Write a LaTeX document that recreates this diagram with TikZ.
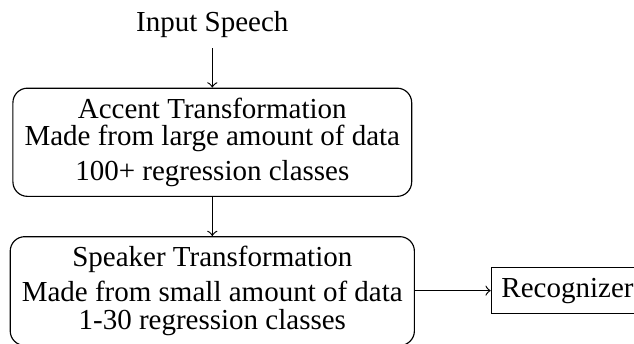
\documentclass[tikz,border=0pt]{standalone}
\usepackage{fontspec}
\setmainfont{Liberation Serif}
\usetikzlibrary{positioning}
\tikzset{%
    stagebox/.style={%
        draw, rounded corners=5pt, align=center,
        inner xsep=4pt, inner ysep=3.3pt}, 
    recbox/.style={draw, inner sep=3.5pt}
}

\begin{document}
\begin{tikzpicture}
\useasboundingbox (0,0) rectangle (218.6pt,-118.6pt);
\node (input) [anchor=base] at (73.2pt,-10.9pt) {Input Speech};
\node (accent) [stagebox, anchor=north] at (73.2pt,-30.2pt)
    {Accent Transformation\\[-2.5pt]
     Made from large amount of data\\
     100+ regression classes};
\node (speaker) [stagebox, anchor=north] at (73.2pt,-81.4pt)
    {Speaker Transformation\\
     Made from small amount of data\\[-2.3pt]
     1-30 regression classes};
\node (recog) [recbox, anchor=west] at (169.2pt,-100.2pt) {Recognizer};
\draw [->] (input) -- (accent);
\draw [->] (accent) -- (speaker);
\draw [->] (speaker.east |- recog.west) -- (recog.west);
\end{tikzpicture}
\end{document}
